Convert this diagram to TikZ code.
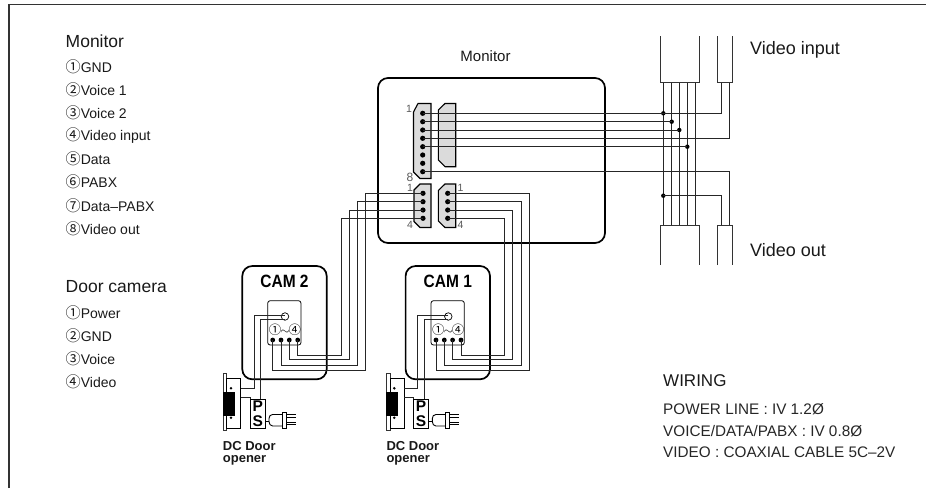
\documentclass[tikz,border=0pt]{standalone}
\usepackage{fontspec}
\setmainfont{Liberation Sans}
\newfontfamily\circfont{Noto Sans CJK KR}[Scale=1.08]
\newcommand{\cn}[1]{{\circfont\symbol{\numexpr"245F+#1\relax}}}
\tikzset{
  wire/.style={draw=black!85,line width=0.9pt},
  cable/.style={draw=black!80,line width=0.9pt},
  roundbox/.style={draw=black,line width=1.7pt,rounded corners=10pt,fill=none},
  connector/.style={draw=black,line width=1.1pt,fill=black!14},
  pinpt/.style={circle,fill=black,inner sep=0pt,minimum size=5.2pt},
  joint/.style={circle,fill=black,inner sep=0pt,minimum size=4.4pt},
  headtxt/.style={anchor=west,font=\fontsize{17.5}{17.5}\selectfont,inner sep=0pt,text=black!90},
  itemtxt/.style={anchor=west,font=\fontsize{14}{14}\selectfont,inner sep=0pt,text=black!90},
  wiretxt/.style={anchor=west,font=\fontsize{15.3}{15.3}\selectfont,inner sep=0pt,text=black!85},
  tinytxt/.style={font=\fontsize{10.5}{10.5}\selectfont,inner sep=0pt,text=black!65},
  camtxt/.style={font=\bfseries\fontsize{15.5}{15.5}\selectfont,inner sep=0pt},
  boldtxt/.style={font=\bfseries\fontsize{13}{12}\selectfont,inner sep=0pt,anchor=north west,align=left,text=black!90},
  psbox/.style={font=\bfseries\fontsize{15.5}{15.5}\selectfont,inner sep=0pt},
}
% #1 prefix, #2 label
\newcommand{\camunit}[2]{%
  \draw[roundbox] (242.3,266) rectangle (326.7,379.3);
  \node[camtxt] (#1label) at (284.5,281) {\scalebox{1}[1.15]{#2}};
  \draw[draw=black,line width=0.8pt,rounded corners=2.5pt] (267.7,300.7) rectangle (301,345);
  \node[circle,draw=black,line width=0.7pt,inner sep=0pt,minimum size=7.5pt] (#1lens) at (285,316.5) {};
  \node[inner sep=0pt,font=\fontsize{11.5}{11.5}\selectfont] (#1range) at (285,329.5) {\cn{1}\kern-1pt$\sim$\kern-1pt\cn{4}};
  \foreach \i/\x in {1/272.7,2/281,3/289.3,4/297.7} {\node[pinpt,minimum size=4.8pt] (#1p\i) at (\x,340) {};}
  % door opener
  \draw[line width=0.9pt,draw=black!80] (223.5,373) -- (223.5,430) -- (226.7,430) -- (226.7,373) -- cycle;
  \draw[line width=0.9pt] (226.7,378.3) rectangle (240.7,428);
  \fill[black] (222.7,391.7) rectangle (235,416);
  \fill (231,388.3) circle (1.4pt) (231,417.7) circle (1.4pt);
  \coordinate (#1ds1) at (240.7,388.3);
  \coordinate (#1ds2) at (240.7,397.5);
  \node[draw=black,line width=0.9pt,minimum width=15.5pt,minimum height=29pt,inner sep=0pt] (#1ps) at (257.8,413.8) {};
  \node[psbox] (#1pl) at (257.8,406.3) {P};
  \node[psbox] (#1sl) at (257.8,421.3) {S};
  \draw[wire] (285,315) -- (254.3,315) -- (254.3,388.3) -- (#1ds1);
  \draw[wire] (285,319) -- (260.7,319) -- (260.7,399.3);
  \draw[wire] (#1ds2) -- (250,397.5) -- (250,399.3);
  % plug
  \draw[line width=0.9pt] (265.7,421) -- (269,421);
  \draw[line width=0.9pt,rounded corners=1.5pt] (282,414.5) -- (271,414.5) -- (269,417) -- (269,423) -- (271,426) -- (282,426);
  \draw[line width=0.9pt] (282.5,412) rectangle (286.5,428);
  \draw[line width=0.8pt] (286.5,414.5) -- (296,414.5) (286.5,417) -- (296,417) (286.5,422) -- (296,422) (286.5,424.5) -- (296,424.5);
}
\begin{document}
\begin{tikzpicture}[x=1pt,y=-1pt]
\useasboundingbox (0,0) rectangle (926,488);
\draw[line width=1.3pt,draw=black!80] (9,488) -- (9,4.5) -- (926,4.5);

% left texts
\node[headtxt] (t1) at (65.5,41) {Monitor};
\foreach \n/\i/\s/\y in {a/1/GND/66.7,b/2/Voice 1/90,c/3/Voice 2/112.7,d/4/Video input/135.3,e/5/Data/158.7,f/6/PABX/181.7,g/7/Data--PABX/205.7,h/8/Video out/228.3}
  {\node[itemtxt] (ml\n) at (65.5,\y) {\cn{\i}\s};}
\node[headtxt] (t2) at (65.5,287) {Door camera};
\foreach \n/\i/\s/\y in {a/1/Power/313,b/2/GND/336,c/3/Voice/359,d/4/Video/381.5}
  {\node[itemtxt] (dl\n) at (65.5,\y) {\cn{\i}\s};}

% monitor
\node[font=\fontsize{15}{15}\selectfont,inner sep=0pt,text=black!90] (t3) at (485.5,56) {Monitor};
\draw[roundbox] (378,78) rectangle (605,243);
\draw[connector] (418,103.5) -- (431,103.5) -- (431,178.5) -- (420,178.5) -- (413.5,172) -- (413.5,112) -- cycle;
\draw[connector] (445,103.5) -- (455.7,103.5) -- (455.7,166.7) -- (445,166.7) -- (438.3,160) -- (438.3,110) -- cycle;
\foreach \i/\y in {1/113.3,2/121.7,3/130,4/138.3,5/146.7,6/155,7/163.3,8/171.7} {\node[pinpt] (a\i) at (422.7,\y) {};}
\node[tinytxt] (n1) at (409,108.5) {1};
\node[tinytxt,font=\fontsize{12}{12}\selectfont] (n8) at (410,177) {8};
\draw[connector] (420,184) -- (431,184) -- (431,227.5) -- (420,227.5) -- (414,221.5) -- (414,190) -- cycle;
\draw[connector] (445,184) -- (455.7,184) -- (455.7,227.5) -- (445,227.5) -- (438.3,221) -- (438.3,190.5) -- cycle;
\foreach \i/\y in {1/193.3,2/201.7,3/210,4/218.3} {\node[pinpt] (l\i) at (423,\y) {}; \node[pinpt] (r\i) at (447.7,\y) {};}
\node[tinytxt] (nl1) at (410,188) {1};
\node[tinytxt] (nl4) at (410,225) {4};
\node[tinytxt] (nr1) at (460.5,188) {1};
\node[tinytxt] (nr4) at (460.5,225) {4};

% video cables
\draw[cable] (660.7,36) -- (660.7,82.7) -- (699,82.7) -- (699,36);
\draw[cable] (717,36) -- (717,82.7) -- (732.7,82.7) -- (732.7,36);
\draw[cable] (660.7,265) -- (660.7,225) -- (699,225) -- (699,265);
\draw[cable] (717,265) -- (717,225) -- (732.7,225) -- (732.7,265);
\foreach \i/\x in {1/663.3,2/671.7,3/679.3,4/687.3,5/695.7} {
  \coordinate (bt\i) at (\x,82.7); \coordinate (bb\i) at (\x,225);
  \draw[wire] (bt\i) -- (bb\i);}
\coordinate (vt1) at (721,82.7); \coordinate (vt2) at (729.3,82.7);
\coordinate (vb1) at (721,225); \coordinate (vb2) at (729.3,225);
\node[joint] (j1) at (663.3,113.3) {};
\node[joint] (j2) at (671.7,121.7) {};
\node[joint] (j3) at (679.3,130) {};
\node[joint] (j5) at (687.3,146.7) {};
\node[joint] (j8) at (663.3,195.7) {};
\draw[wire] (a1.center) -- (j1.center) -- (721,113.3) -- (vt1);
\draw[wire] (a2.center) -- (j2.center);
\draw[wire] (a3.center) -- (j3.center);
\draw[wire] (a4.center) -- (729.3,138.3) -- (vt2);
\draw[wire] (a5.center) -- (j5.center);
\draw[wire] (a8.center) -- (729.3,171.7) -- (vb2);
\draw[wire] (j8.center) -- (721,195.7) -- (vb1);

\node[font=\fontsize{18}{18}\selectfont,anchor=west,inner sep=0pt,text=black!90] (t4) at (750,50) {Video input};
\node[font=\fontsize{18}{18}\selectfont,anchor=west,inner sep=0pt,text=black!90] (t5) at (750,250) {Video out};

% cameras
\begin{scope}\camunit{cb}{CAM 2}\end{scope}
\begin{scope}[xshift=163.3pt]\camunit{ca}{CAM 1}\end{scope}
\node[boldtxt] (d1) at (222.7,441) {DC Door\\opener};
\node[boldtxt] (d2) at (386.3,441) {DC Door\\opener};

% wiring monitor - cameras
\draw[wire] (cbp1.center) |- (365.7,370) |- (l1.center);
\draw[wire] (cbp2.center) |- (357.3,365) |- (l2.center);
\draw[wire] (cbp3.center) |- (349,359.3) |- (l3.center);
\draw[wire] (cbp4.center) |- (341,355) |- (l4.center);
\draw[wire] (cap1.center) |- (529.3,370) |- (r1.center);
\draw[wire] (cap2.center) |- (521,365) |- (r2.center);
\draw[wire] (cap3.center) |- (512.7,359.3) |- (r3.center);
\draw[wire] (cap4.center) |- (504.3,355) |- (r4.center);

% wiring legend
\node[font=\fontsize{17}{17}\selectfont,anchor=west,inner sep=0pt,text=black!90] (w0) at (663,381) {WIRING};
\node[wiretxt] (w1) at (663,409) {POWER LINE : IV 1.2Ø};
\node[wiretxt] (w2) at (663,431) {VOICE/DATA/PABX : IV 0.8Ø};
\node[wiretxt] (w3) at (663,452) {VIDEO : COAXIAL CABLE 5C--2V};
\end{tikzpicture}
\end{document}
